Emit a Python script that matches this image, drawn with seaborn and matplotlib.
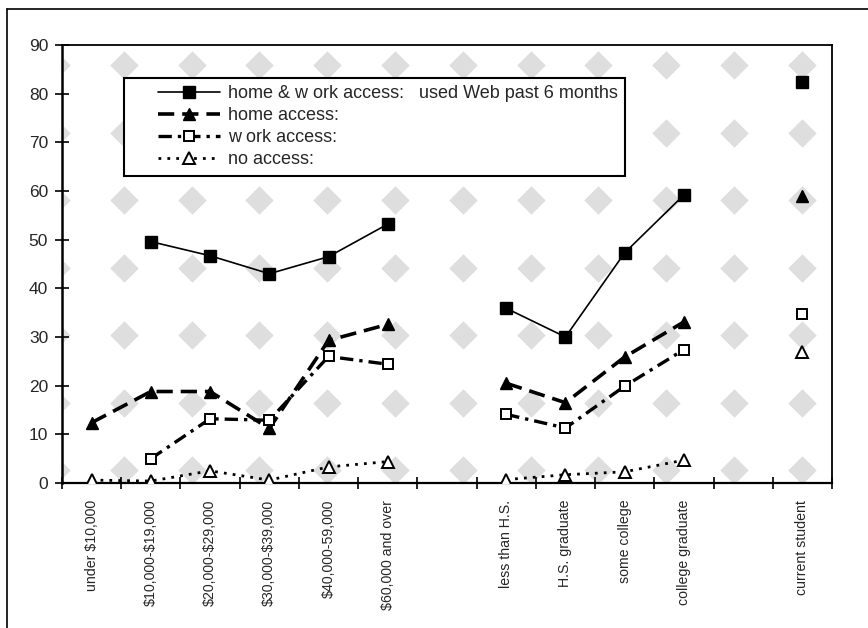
import numpy as np
import pandas as pd
import seaborn as sns
import matplotlib
matplotlib.use("Agg")
import matplotlib.pyplot as plt
from matplotlib.lines import Line2D
from matplotlib.legend_handler import HandlerLine2D

# Categories along the x axis (empty strings are spacer slots between groups)
categories = ['under $10,000', '$10,000-$19,000', '$20,000-$29,000',
              '$30,000-$39,000', '$40,000-59,000', '$60,000 and over', '',
              'less than H.S.', 'H.S. graduate', 'some college',
              'college graduate', '', 'current student']

nan = np.nan
home_work = [nan, 49.6, 46.7, 43.0, 46.5, 53.2, nan, 35.9, 30.0, 47.3, 59.2, nan, 82.3]
home = [12.4, 18.8, 18.8, 11.2, 29.3, 32.6, nan, 20.5, 16.5, 25.9, 33.1, nan, 58.9]
work = [nan, 5.0, 13.2, 12.9, 26.0, 24.4, nan, 14.1, 11.3, 19.9, 27.4, nan, 34.8]
no_access = [0.6, 0.4, 2.5, 0.6, 3.3, 4.4, nan, 0.7, 1.7, 2.3, 4.7, nan, 27.0]

series_names = ['home & w ork access:   used Web past 6 months',
                'home access:', 'w ork access:', 'no access:']
series_values = [home_work, home, work, no_access]

y_ticks = [0, 10, 20, 30, 40, 50, 60, 70, 80, 90]

styles = [
    dict(linestyle='-', linewidth=1.2, marker='s', markersize=8,
         markerfacecolor='black', markeredgecolor='black', markeredgewidth=1.0),
    dict(linestyle=(0, (4.5, 2.2)), linewidth=2.6, marker='^', markersize=8.5,
         markerfacecolor='black', markeredgecolor='black', markeredgewidth=1.0),
    dict(linestyle=(0, (4.0, 1.8, 1.0, 1.8)), linewidth=2.4, marker='s', markersize=7.5,
         markerfacecolor='white', markeredgecolor='black', markeredgewidth=1.4),
    dict(linestyle=(0, (1.0, 2.2)), linewidth=2.0, marker='^', markersize=8,
         markerfacecolor='white', markeredgecolor='black', markeredgewidth=1.4),
]

sns.set_theme(style='white')
plt.rcParams['font.family'] = ['Liberation Sans', 'DejaVu Sans']
plt.rcParams['text.parse_math'] = False

fig = plt.figure(figsize=(8.68, 6.28), dpi=100)
ax = fig.add_axes([62 / 868, 1 - 483 / 628, 770 / 868, 438 / 628])

# Mottled grey backdrop of the plot area
bx = (np.arange(56, 840, 67.8) - 62) / 770
by = (483 - np.arange(65, 480, 67.5)) / 438
gx, gy = np.meshgrid(bx, by)
ax.scatter(gx.ravel(), gy.ravel(), s=210, marker='D', color='#dedede',
           linewidths=0, transform=ax.transAxes, zorder=0)

x = np.arange(len(categories))
handles = []
for name, vals, st in zip(series_names, series_values, styles):
    df = pd.DataFrame({'x': x, 'y': vals})
    # split into contiguous runs so the lines break at spacer slots
    run = df['y'].isna().cumsum()
    df = df.assign(run=run).dropna()
    for _, seg in df.groupby('run'):
        sns.lineplot(data=seg, x='x', y='y', ax=ax, color='black',
                     dashes=False, legend=False, zorder=3, **st)
    handles.append(Line2D([], [], color='black', label=name, **st))

ax.set_xlim(-0.5, len(categories) - 0.5)
ax.set_ylim(0, 90)
ax.set_xlabel('')
ax.set_ylabel('')

ax.set_xticks(x)
ax.set_xticklabels(categories, rotation=90, fontsize=10.2)
ax.set_xticks(np.arange(-0.5, len(categories), 1.0), minor=True)
ax.tick_params(axis='x', which='major', length=0, pad=12)
ax.tick_params(axis='x', which='minor', length=8, width=1.2, direction='inout',
               color='black', bottom=True)
ax.set_yticks(y_ticks)
ax.set_yticklabels([str(v) for v in y_ticks], fontsize=12.5)
ax.tick_params(axis='y', which='major', length=10, width=1.2, direction='inout',
               color='black', pad=5, left=True)

for side, sp in ax.spines.items():
    sp.set_visible(True)
    sp.set_color('black')
    sp.set_linewidth(1.3)
ax.spines['left'].set_linewidth(1.8)
ax.spines['bottom'].set_linewidth(1.6)
ax.set_facecolor('white')

fs = 13
leg = ax.legend(handles=handles, loc='upper left',
                bbox_to_anchor=((124 - 62) / 770, (483 - 78) / 438),
                borderaxespad=0, fontsize=fs, frameon=True, fancybox=False,
                handlelength=4.93, handletextpad=0.45, labelspacing=0.28,
                borderpad=0.4, numpoints=1,
                handler_map={Line2D: HandlerLine2D(xpad=1.5)})
leg.get_frame().set_edgecolor('black')
leg.get_frame().set_linewidth(1.5)
leg.get_frame().set_facecolor('white')
leg.get_frame().set_alpha(1)
leg.set_zorder(5)

# Outer chart frame (top and left edges)
fig.add_artist(Line2D([7 / 868, 1.0], [1 - 9 / 628, 1 - 9 / 628],
                      transform=fig.transFigure, color='black', linewidth=1.2))
fig.add_artist(Line2D([7 / 868, 7 / 868], [0.0, 1 - 9 / 628],
                      transform=fig.transFigure, color='black', linewidth=1.2))

fig.savefig('out.png', dpi=100, facecolor='white')
